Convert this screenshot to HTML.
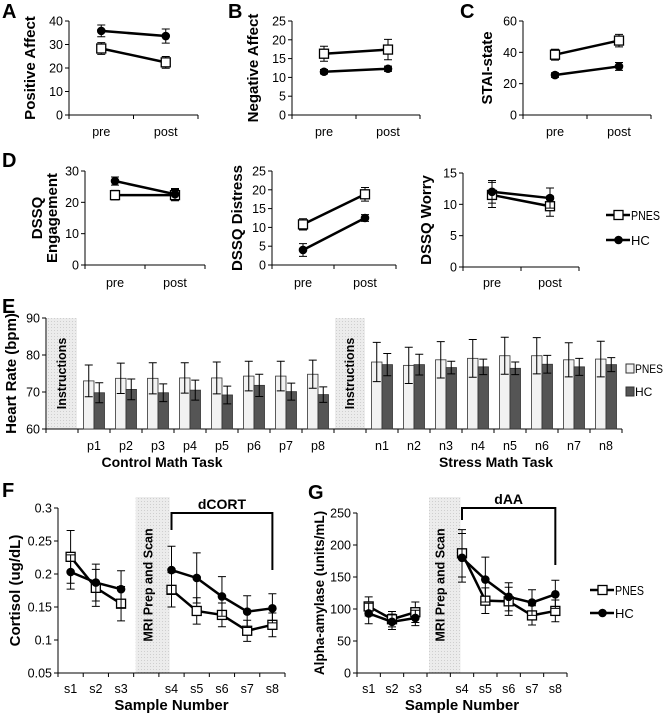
<!DOCTYPE html>
<html><head><meta charset="utf-8"><style>
html,body{margin:0;padding:0;background:#fff;}
svg{display:block;font-family:"Liberation Sans",Arial,sans-serif;}
</style></head><body>
<svg id="fig" width="664" height="714" viewBox="0 0 664 714" xmlns="http://www.w3.org/2000/svg">
<defs><pattern id="dots" width="3" height="3" patternUnits="userSpaceOnUse"><rect width="3" height="3" fill="#ececec"/><rect width="1" height="1" fill="#cfcfcf"/></pattern></defs>
</svg>
<script>
// ---- data ----
const prePost = ['pre','post'];
const aPNES = [28.3, 22.4], aPNESerr = [2.5, 2.5], aHC = [35.8, 33.6], aHCerr = [2.5, 3];
const bPNES = [16.3, 17.4], bPNESerr = [2, 2.7], bHC = [11.5, 12.3], bHCerr = [0.6, 0.7];
const cPNES = [38.5, 47.5], cPNESerr = [3.5, 4], cHC = [25.5, 31], cHCerr = [1.5, 2.5];
const d1PNES = [22.3, 22.3], d1PNESerr = [1.5, 1.8], d1HC = [26.8, 22.6], d1HCerr = [1.3, 1.8];
const d2PNES = [10.8, 18.8], d2PNESerr = [1.5, 1.8], d2HC = [4, 12.5], d2HCerr = [1.7, 0.9];
const d3PNES = [11.5, 9.7], d3PNESerr = [2, 1.6], d3HC = [12, 11], d3HCerr = [1.8, 1.6];
const hrCats = ['','p1','p2','p3','p4','p5','p6','p7','p8','','n1','n2','n3','n4','n5','n6','n7','n8'];
const hrPNES = [null,73,73.7,73.7,73.8,73.8,74.3,74.3,74.8,null,78.1,77.2,78.7,79.1,79.8,79.8,78.7,78.9];
const hrPNESerr = [0,4.3,4.1,4.2,4.1,4.3,4.0,4.0,3.8,0,5.3,4.9,4.9,5.1,5.0,4.9,4.6,4.8];
const hrHC = [null,69.8,70.7,69.8,70.5,69.2,71.8,70.1,69.3,null,77.4,77.4,76.6,76.8,76.4,77.5,76.8,77.4];
const hrHCerr = [0,2.7,2.8,2.4,2.7,2.4,3.0,2.3,2.1,0,3.0,2.8,1.7,2.1,1.7,2.4,2.3,1.9];
const sCats = ['s1','s2','s3','','s4','s5','s6','s7','s8'];
const fPNES = [0.226,0.179,0.155,null,0.176,0.144,0.138,0.114,0.123];
const fPNESerr = [0.04,0.028,0.026,0,0.026,0.02,0.018,0.016,0.018];
const fHC = [0.203,0.187,0.177,null,0.206,0.194,0.166,0.143,0.148];
const fHCerr = [0.026,0.028,0.028,0,0.036,0.038,0.03,0.024,0.022];
const gPNES = [104,84,95,null,187,113,112,90,97];
const gPNESerr = [15,12,16,0,37,20,22,15,17];
const gHC = [93,80,86,null,180,146,119,110,123];
const gHCerr = [16,12,12,0,38,35,22,20,22];
const ticksA = [0,10,20,30,40], ticksB = [0,5,10,15,20,25], ticksC = [0,20,40,60];
const ticksD1 = [0,10,20,30], ticksD2 = [0,5,10,15,20,25], ticksD3 = [0,5,10,15];
const ticksE = [60,70,80,90];
const ticksF = [0.05,0.1,0.15,0.2,0.25,0.3], ticksFlab = ['0.05','0.1','0.15','0.2','0.25','0.3'];
const ticksG = [0,50,100,150,200,250];

// ---- helpers ----
const svg = document.getElementById('fig');
const NS = 'http://www.w3.org/2000/svg';
function mk(tag, at, parent){const e=document.createElementNS(NS,tag);for(const k in at)e.setAttribute(k,at[k]);(parent||svg).appendChild(e);return e;}
function txt(s, at, parent){const e=mk('text',at,parent);e.textContent=s;return e;}
function grp(name){const g=mk('g',{});


return g;}

function axes(g, c, ticks, labels){
  const y=v=>c.yb-(v-c.min)/(c.max-c.min)*(c.yb-c.yt);
  mk('line',{x1:c.x0,y1:c.yt,x2:c.x0,y2:c.yb,stroke:'#000','stroke-width':1},g);
  mk('line',{x1:c.x0,y1:c.yb,x2:c.x1,y2:c.yb,stroke:'#000','stroke-width':1},g);
  ticks.forEach((t,i)=>{const yy=y(t);
    mk('line',{x1:c.x0-4,y1:yy,x2:c.x0,y2:yy,stroke:'#000'},g);
    const l=txt(labels?labels[i]:String(t),{x:c.x0-6,y:yy+4.5,'font-size':12.5,'text-anchor':'end'},g);
    
    
  });
  const n=c.n, w=(c.x1-c.x0)/n;
  for(let i=0;i<=n;i++){mk('line',{x1:c.x0+i*w,y1:c.yb,x2:c.x0+i*w,y2:c.yb+4,stroke:'#000'},g);}
  return {y, xc:i=>c.x0+(i+0.5)*w};
}
function ebar(g,x,y1,y2,cw){mk('path',{d:`M${x} ${y1}V${y2}M${x-cw} ${y1}H${x+cw}M${x-cw} ${y2}H${x+cw}`,stroke:'#000','stroke-width':1,fill:'none'},g);}
function series(g, s, vals, errs, kind, name){
  const sg=mk('g',{},g);
  
  
  let pts=[];
  vals.forEach((v,i)=>{if(v==null){pts.push(null);return;} pts.push([s.xc(i),s.y(v)]);
    ebar(sg,s.xc(i),s.y(v-errs[i]),s.y(v+errs[i]),4);});
  let d='',pen=false;
  pts.forEach(p=>{if(!p){pen=false;return;} d+=(pen?'L':'M')+p[0]+' '+p[1]; pen=true;});
  mk('path',{d,stroke:'#000','stroke-width':2.5,fill:'none'},sg);
  pts.forEach(p=>{if(!p)return;
    if(kind==='sq') mk('rect',{x:p[0]-4.5,y:p[1]-4.5,width:9,height:9,fill:'#fff',stroke:'#000','stroke-width':1.3},sg);
    else mk('circle',{cx:p[0],cy:p[1],r:4.3,fill:'#000'},sg);
  });
}
function xlabels(g,s,cats,yy){cats.forEach((c,i)=>{if(!c)return;const t=txt(c,{x:s.xc(i),y:yy,'font-size':12.5,'text-anchor':'middle'},g);
  
  });}
function ytitle(g,lines,x,yc,size){lines.forEach((l,k)=>{const t=txt(l,{x:0,y:0,'font-size':size||15,'font-weight':'bold','text-anchor':'middle',transform:`translate(${x+k*15},${yc}) rotate(-90)`},g);
  
  });}
function letter(s,x,y){const t=txt(s,{x,y,'font-size':20,'font-weight':'bold'});
  
  }

function linePanel(name,c,ticks,P,Pe,H,He,title,tx,cats,labY,labels,tsize){
  const g=grp(name);
  const s=axes(g,c,ticks,labels);
  series(g,s,P,Pe,'sq','series-pnes');
  series(g,s,H,He,'ci','series-hc');
  xlabels(g,s,cats,labY);
  ytitle(g,title,tx,(c.yt+c.yb)/2,tsize);
  return {g,s};
}

// ---- top row ----
letter('A',2,18); letter('B',228,18); letter('C',460,18);
linePanel('panel-a-positive-affect',{x0:69,x1:198,yt:21,yb:115,min:0,max:40,n:2},ticksA,aPNES,aPNESerr,aHC,aHCerr,['Positive Affect'],35,prePost,136);
linePanel('panel-b-negative-affect',{x0:292,x1:420,yt:21,yb:115,min:0,max:25,n:2},ticksB,bPNES,bPNESerr,bHC,bHCerr,['Negative Affect'],258,prePost,136);
linePanel('panel-c-stai-state',{x0:523,x1:651,yt:21,yb:115,min:0,max:60,n:2},ticksC,cPNES,cPNESerr,cHC,cHCerr,['STAI-state'],492,prePost,136);

// ---- D row ----
letter('D',2,167);
linePanel('panel-d-engagement',{x0:85,x1:205,yt:171,yb:265,min:0,max:30,n:2},ticksD1,d1PNES,d1PNESerr,d1HC,d1HCerr,['DSSQ','Engagement'],42,prePost,287);
linePanel('panel-d-distress',{x0:272,x1:396,yt:171,yb:265,min:0,max:25,n:2},ticksD2,d2PNES,d2PNESerr,d2HC,d2HCerr,['DSSQ Distress'],242,prePost,287);
linePanel('panel-d-worry',{x0:463,x1:579,yt:173,yb:267,min:0,max:15,n:2},ticksD3,d3PNES,d3PNESerr,d3HC,d3HCerr,['DSSQ Worry'],431,prePost,287);
function lineLegend(name,x,y1,y2,fs){
  const g=grp(name);
  const e1=mk('g',{},g);
  
  
  mk('line',{x1:x,y1:y1,x2:x+24,y2:y1,stroke:'#000','stroke-width':2.5},e1);
  mk('rect',{x:x+8,y:y1-4.5,width:9,height:9,fill:'#fff',stroke:'#000','stroke-width':1.3},e1);
  txt('PNES',{x:x+25,y:y1+5,'font-size':fs,textLength:29,lengthAdjust:'spacingAndGlyphs'},e1);
  const e2=mk('g',{},g);
  
  
  mk('line',{x1:x,y1:y2,x2:x+24,y2:y2,stroke:'#000','stroke-width':2.5},e2);
  mk('circle',{cx:x+12.5,cy:y2,r:4.3,fill:'#000'},e2);
  txt('HC',{x:x+25,y:y2+5,'font-size':fs},e2);
}
lineLegend('legend-d',606,215,240,13);

// ---- E bar chart ----
letter('E',2,313);
(function(){
  const g=grp('panel-e-heart-rate');
  const c={x0:46,x1:622,yt:318,yb:429,min:60,max:90,n:18};
  const y=v=>c.yb-(v-c.min)/(c.max-c.min)*(c.yb-c.yt);
  const w=(c.x1-c.x0)/c.n, xc=i=>c.x0+(i+0.5)*w;
  [0,9].forEach(i=>{
    const r=mk('rect',{x:c.x0+i*w+1,y:c.yt,width:w-2,height:c.yb-c.yt,fill:'url(#dots)'},g);
    
    
    txt('Instructions',{x:0,y:0,'font-size':12.5,'font-weight':'bold','text-anchor':'middle',transform:`translate(${xc(i)+4},${(c.yt+c.yb)/2}) rotate(-90)`},g);
  });
  mk('line',{x1:c.x0,y1:c.yt,x2:c.x0,y2:c.yb,stroke:'#000'},g);
  mk('line',{x1:c.x0,y1:c.yb,x2:c.x1,y2:c.yb,stroke:'#000'},g);
  ticksE.forEach(t=>{mk('line',{x1:c.x0-4,y1:y(t),x2:c.x0,y2:y(t),stroke:'#000'},g);
    txt(String(t),{x:c.x0-6,y:y(t)+4.5,'font-size':12.5,'text-anchor':'end'},g);});
  for(let i=0;i<=c.n;i++)mk('line',{x1:c.x0+i*w,y1:c.yb,x2:c.x0+i*w,y2:c.yb+4,stroke:'#000'},g);
  hrCats.forEach((cat,i)=>{
    if(hrPNES[i]==null)return;
    const bw=10.5, x=xc(i);
    const b1=mk('rect',{x:x-bw,y:y(hrPNES[i]),width:bw,height:c.yb-y(hrPNES[i]),fill:'#f2f2f2',stroke:'#333','stroke-width':0.8},g);
    
    
    ebar(g,x-bw/2,y(hrPNES[i]-hrPNESerr[i]),y(hrPNES[i]+hrPNESerr[i]),4);
    const b2=mk('rect',{x:x,y:y(hrHC[i]),width:bw,height:c.yb-y(hrHC[i]),fill:'#555',stroke:'#333','stroke-width':0.8},g);
    
    
    ebar(g,x+bw/2,y(hrHC[i]-hrHCerr[i]),y(hrHC[i]+hrHCerr[i]),4);
    txt(cat,{x:x,y:450,'font-size':12.5,'text-anchor':'middle'},g);
  });
  txt('Control Math Task',{x:162,y:467,'font-size':14,'font-weight':'bold','text-anchor':'middle'},g);
  txt('Stress Math Task',{x:496,y:467,'font-size':14,'font-weight':'bold','text-anchor':'middle'},g);
  ytitle(g,['Heart Rate (bpm)'],16,(c.yt+c.yb)/2,15);
  const lg=grp('legend-e');
  mk('rect',{x:626,y:364,width:8,height:9,fill:'#f2f2f2',stroke:'#333'},lg);
  txt('PNES',{x:635,y:373,'font-size':12,textLength:28,lengthAdjust:'spacingAndGlyphs'},lg);
  mk('rect',{x:626,y:387,width:8,height:9,fill:'#555',stroke:'#333'},lg);
  txt('HC',{x:635,y:396,'font-size':12},lg);
})();

// ---- F and G ----
letter('F',2,497); letter('G',308,499);
function samplePanel(name,c,ticks,tl,P,Pe,H,He,title,tx,brLabel,brL,brR,tsize){
  const g=grp(name);
  const w=(c.x1-c.x0)/c.n;
  const box=mk('rect',{x:c.x0+3*w+2,y:497,width:w*1.35,height:c.yb-497,fill:'url(#dots)'},g);
  
  
  txt('MRI Prep and Scan',{x:0,y:0,'font-size':12.5,'font-weight':'bold','text-anchor':'middle',transform:`translate(${c.x0+3.5*w+6},${(497+c.yb)/2}) rotate(-90)`},g);
  const s=axes(g,c,ticks,tl);
  series(g,s,P,Pe,'sq','series-pnes');
  series(g,s,H,He,'ci','series-hc');
  xlabels(g,s,sCats,693);
  const xa=s.xc(4), xb=s.xc(8);
  const br=mk('path',{d:`M${xa} ${brL}V${c.br}H${xb}V${brR}`,stroke:'#000','stroke-width':2,fill:'none'},g);
  
  
  txt(brLabel,{x:(xa+xb)/2,y:c.br-4,'font-size':14,'font-weight':'bold','text-anchor':'middle'},g);
  txt('Sample Number',{x:(c.x0+c.x1)/2,y:710,'font-size':15,'font-weight':'bold','text-anchor':'middle'},g);
  ytitle(g,[title],tx,(c.yt+c.yb)/2,tsize);
}
samplePanel('panel-f-cortisol',{x0:58,x1:285,yt:508,yb:673,min:0.05,max:0.3,n:9,br:513},ticksF,ticksFlab,fPNES,fPNESerr,fHC,fHCerr,'Cortisol (ug/dL)',20,'dCORT',530,570,15);
samplePanel('panel-g-amylase',{x0:357,x1:567,yt:513,yb:673,min:0,max:250,n:9,br:508},ticksG,null,gPNES,gPNESerr,gHC,gHCerr,'Alpha-amylase (units/mL)',324,'dAA',520,565,13.5);
lineLegend('legend-g',590,590,613,13);
</script>
</body></html>
